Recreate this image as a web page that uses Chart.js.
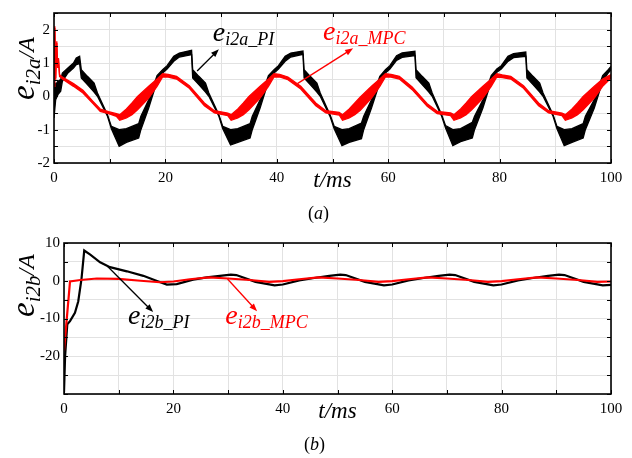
<!DOCTYPE html>
<html>
<head>
<meta charset="utf-8">
<script src="https://cdn.jsdelivr.net/npm/chart.js@4.4.0/dist/chart.umd.min.js"></script>
<style>
  html, body { margin: 0; padding: 0; background: #fff; }
  #wrap { position: relative; width: 632px; height: 458px; }
  canvas { position: absolute; left: 0; }
  #chartA { top: 0; }
  #chartB { top: 229px; }
</style>
</head>
<body>
<div id="wrap">
  <canvas id="chartA" width="632" height="229"></canvas>
  <canvas id="chartB" width="632" height="229"></canvas>
</div>
<script>
// === DATOS (a): e_i2a, banda inferior / superior ===
const tA_PI = [
  0, 0.3, 0.7, 1.2, 1.5, 2.5, 3.5, 4.0, 4.6, 4.9, 6.0, 7.2, 7.8, 9.6, 10.3, 11.7, 13.0, 15.2, 15.6, 17.0, 18.5, 19.5,
  20.3, 21.5, 22.5, 24.7, 24.9, 26.0, 27.2, 27.8, 29.6, 30.3, 31.7, 33.0, 35.2, 35.6, 37.0, 38.5, 39.5,
  40.3, 41.5, 42.5, 44.7, 44.9, 46.0, 47.2, 47.8, 49.6, 50.3, 51.7, 53.0, 55.2, 55.6, 57.0, 58.5, 59.5,
  60.3, 61.5, 62.5, 64.8, 65.0, 66.1, 67.3, 67.9, 69.6, 70.3, 71.6, 73.0, 75.1, 75.5, 77.0, 78.5, 79.5,
  80.3, 81.5, 82.5, 84.7, 84.9, 86.0, 87.2, 87.8, 89.6, 90.3, 91.6, 93.0, 95.0, 95.4, 97.0, 98.5, 99.5, 100
];
const loA_PI = [
  -0.65, -0.1, 0.05, 0.15, 0.45, 0.7, 0.85, 0.95, 0.98, 0.55, 0.35, 0.13, 0.0, -0.6, -0.97, -1.5, -1.38, -1.25, -1.0, -0.35, 0.45, 0.7,
  0.82, 1.05, 1.18, 1.25, 0.55, 0.35, 0.13, 0.0, -0.6, -0.97, -1.46, -1.38, -1.25, -1.0, -0.35, 0.45, 0.7,
  0.82, 1.05, 1.18, 1.26, 0.55, 0.35, 0.13, 0.0, -0.62, -0.97, -1.48, -1.38, -1.27, -1.0, -0.35, 0.42, 0.7,
  0.82, 1.08, 1.17, 1.22, 0.56, 0.35, 0.13, 0.0, -0.6, -0.95, -1.48, -1.36, -1.25, -1.0, -0.35, 0.45, 0.72,
  0.82, 1.05, 1.16, 1.2, 0.55, 0.35, 0.13, 0.0, -0.6, -0.97, -1.48, -1.38, -1.25, -1.0, -0.35, 0.45, 0.7, 0.8
];
const hiA_PI = [
  0.45, 0.35, 0.45, 0.5, 0.7, 0.85, 1.0, 1.15, 1.2, 0.8, 0.6, 0.4, 0.1, -0.55, -0.9, -1.0, -0.97, -0.82, -0.6, -0.1, 0.62, 0.8,
  0.92, 1.2, 1.3, 1.38, 0.8, 0.6, 0.4, 0.1, -0.55, -0.9, -1.0, -0.97, -0.82, -0.6, -0.1, 0.62, 0.8,
  0.92, 1.2, 1.3, 1.36, 0.8, 0.6, 0.4, 0.1, -0.57, -0.9, -1.0, -0.97, -0.8, -0.6, -0.1, 0.6, 0.8,
  0.92, 1.22, 1.3, 1.35, 0.8, 0.6, 0.4, 0.1, -0.55, -0.88, -1.0, -0.97, -0.78, -0.6, -0.1, 0.62, 0.82,
  0.92, 1.2, 1.28, 1.33, 0.8, 0.6, 0.4, 0.1, -0.55, -0.9, -1.0, -0.97, -0.82, -0.6, -0.1, 0.62, 0.8, 0.9
];

const tA_MPC = [
  0, 0.15, 0.3, 0.5, 0.65, 0.8, 1.0, 1.5, 3.5, 5.2, 7.0, 8.3, 9.8, 11.2, 11.8, 13.0, 14.0, 15.0, 17.0, 18.5, 19.5,
  20.5, 22.0, 24.3, 27.0, 28.8, 31.2, 31.8, 33.0, 34.0, 35.0, 37.0, 38.5, 39.5,
  40.5, 42.0, 44.3, 47.0, 48.8, 51.2, 51.8, 53.0, 54.0, 55.0, 57.0, 58.5, 59.5,
  60.5, 62.0, 64.3, 67.0, 68.8, 71.2, 71.8, 73.0, 74.0, 75.0, 77.0, 78.5, 79.5,
  80.5, 82.0, 84.3, 87.0, 88.8, 91.2, 91.8, 93.0, 94.0, 95.0, 97.0, 98.5, 100
];
const loA_MPC = [
  0.3, 2.05, 0.5, 1.6, 0.85, 1.1, 0.6, 0.52, 0.3, 0.1, -0.22, -0.45, -0.52, -0.6, -0.72, -0.65, -0.55, -0.4, -0.05, 0.3, 0.58,
  0.58, 0.52, 0.24, -0.28, -0.5, -0.58, -0.72, -0.65, -0.55, -0.4, -0.05, 0.3, 0.58,
  0.58, 0.5, 0.22, -0.28, -0.5, -0.56, -0.72, -0.65, -0.55, -0.42, -0.05, 0.3, 0.58,
  0.58, 0.52, 0.2, -0.3, -0.52, -0.58, -0.72, -0.65, -0.55, -0.4, -0.05, 0.3, 0.58,
  0.56, 0.52, 0.24, -0.28, -0.5, -0.58, -0.72, -0.65, -0.55, -0.4, -0.05, 0.3, 0.55
];
const hiA_MPC = [
  0.65, 2.1, 0.55, 1.65, 0.9, 1.15, 0.65, 0.58, 0.38, 0.18, -0.15, -0.38, -0.46, -0.52, -0.55, -0.38, -0.2, 0.0, 0.3, 0.52, 0.68,
  0.66, 0.6, 0.32, -0.2, -0.43, -0.5, -0.55, -0.38, -0.2, 0.0, 0.3, 0.52, 0.68,
  0.66, 0.58, 0.3, -0.2, -0.43, -0.48, -0.55, -0.38, -0.2, -0.02, 0.3, 0.52, 0.68,
  0.66, 0.6, 0.28, -0.22, -0.45, -0.5, -0.55, -0.38, -0.2, 0.0, 0.3, 0.52, 0.68,
  0.64, 0.6, 0.32, -0.2, -0.43, -0.5, -0.55, -0.38, -0.2, 0.0, 0.3, 0.52, 0.65
];

// === DATOS (b): e_i2b ===
const tB_PI = [
  0, 0.2, 0.6, 1.1, 2.0, 2.6, 3.2, 3.7, 4.8, 6.6, 8.4, 11.5, 14.5, 17.6, 18.8, 20.6, 23.6, 26.1, 28.5, 30.5, 31.5,
  35, 38.5, 40, 43, 46, 48.5, 50.5, 51.5, 55, 58.5, 60, 63, 66, 68.5, 70.5, 71.5,
  75, 78.5, 80, 83, 86, 88.5, 90.5, 91.5, 95, 98.5, 100
];
const vB_PI = [
  -29.5, -20, -11.5, -10.7, -8.5, -5.5, 0.5, 8, 6.9, 4.9, 3.6, 2.5, 1.3, -0.4, -1.0, -0.9, 0.3, 0.9, 1.3, 1.6, 1.5,
  -0.3, -1.2, -1.0, 0.1, 0.8, 1.3, 1.6, 1.5, -0.3, -1.2, -1.0, 0.1, 0.8, 1.3, 1.6, 1.5,
  -0.3, -1.2, -1.0, 0.1, 0.8, 1.3, 1.6, 1.5, -0.3, -1.2, -1.1
];
const tB_MPC = [
  0, 1.1, 3, 6, 10, 14, 17.5, 20, 23, 26.5, 30, 34, 37.5, 40, 43, 46.5, 50, 54, 57.5, 60,
  63, 66.5, 70, 74, 77.5, 80, 83, 86.5, 90, 94, 97.5, 100
];
const vB_MPC = [
  -18.5, -0.2, 0.2, 0.6, 0.5, 0.0, -0.4, -0.2, 0.4, 0.9, 0.6, 0.2, -0.3, -0.1, 0.4, 0.9, 0.6, 0.2, -0.3, -0.1,
  0.4, 0.9, 0.6, 0.2, -0.3, -0.1, 0.4, 0.9, 0.6, 0.2, -0.3, -0.2
];

// === ETIQUETAS Y FLECHAS (coordenadas de datos) ===
const notasA = [
  { base: "e", sub: "i2a_PI", color: "#000", texto: [28.5, 1.65], desde: [25.7, 0.76], hasta: [29.6, 1.41] },
  { base: "e", sub: "i2a_MPC", color: "#ff0000", texto: [48.3, 1.7], desde: [43.7, 0.38], hasta: [53.7, 1.44] }
];
const notasB = [
  { base: "e", sub: "i2b_PI", color: "#000", texto: [11.7, -11.5], desde: [7.9, 3.9], hasta: [16.3, -8.3] },
  { base: "e", sub: "i2b_MPC", color: "#ff0000", texto: [29.5, -11.5], desde: [29.9, 0.45], hasta: [35.3, -8.1] }
];

const SERIF = '"Liberation Serif", "Times New Roman", serif';

function puntos(ts, vs) {
  return ts.map((t, i) => ({ x: t, y: vs[i] }));
}

function textoSub(ctx, x, y, base, sub, tamBase, tamSub, baja) {
  ctx.textAlign = "left";
  ctx.textBaseline = "alphabetic";
  ctx.font = `italic ${tamBase}px ${SERIF}`;
  ctx.fillText(base, x, y);
  const w = ctx.measureText(base).width;
  ctx.font = `italic ${tamSub}px ${SERIF}`;
  ctx.fillText(sub, x + w, y + baja);
  return w + ctx.measureText(sub).width;
}

function flecha(ctx, x1, y1, x2, y2, color) {
  const ang = Math.atan2(y2 - y1, x2 - x1);
  const L = 8, W = 3;
  ctx.strokeStyle = color;
  ctx.fillStyle = color;
  ctx.lineWidth = 1.3;
  ctx.beginPath();
  ctx.moveTo(x1, y1);
  ctx.lineTo(x2 - L * 0.6 * Math.cos(ang), y2 - L * 0.6 * Math.sin(ang));
  ctx.stroke();
  ctx.beginPath();
  ctx.moveTo(x2, y2);
  ctx.lineTo(x2 - L * Math.cos(ang) + W * Math.sin(ang), y2 - L * Math.sin(ang) - W * Math.cos(ang));
  ctx.lineTo(x2 - L * Math.cos(ang) - W * Math.sin(ang), y2 - L * Math.sin(ang) + W * Math.cos(ang));
  ctx.closePath();
  ctx.fill();
}

// === PLUGIN: marco, marcas interiores y textos ===
function pluginDecoracion(cfg) {
  return {
    id: "decoracion",
    afterDraw(chart) {
      const { ctx, chartArea: a, scales: { x, y } } = chart;
      ctx.save();

      // marcas hacia dentro
      ctx.strokeStyle = "#000";
      ctx.lineWidth = 1;
      ctx.beginPath();
      x.ticks.forEach(t => {
        const px = Math.round(x.getPixelForValue(t.value)) + 0.5;
        ctx.moveTo(px, a.bottom); ctx.lineTo(px, a.bottom - 4);
        ctx.moveTo(px, a.top); ctx.lineTo(px, a.top + 4);
      });
      y.ticks.forEach(t => {
        const py = Math.round(y.getPixelForValue(t.value)) + 0.5;
        ctx.moveTo(a.left, py); ctx.lineTo(a.left + 4, py);
        ctx.moveTo(a.right, py); ctx.lineTo(a.right - 4, py);
      });
      ctx.stroke();

      // marco
      ctx.lineWidth = 1.6;
      ctx.strokeRect(a.left, a.top, a.right - a.left, a.bottom - a.top);

      // titulo eje y (rotado)
      ctx.fillStyle = "#000";
      ctx.save();
      ctx.translate(cfg.yTitulo[0], cfg.yTitulo[1]);
      ctx.rotate(-Math.PI / 2);
      const w = textoSub(ctx, 0, 0, "e", cfg.ySub, 33, 21, 6);
      ctx.font = `italic 24px ${SERIF}`;
      ctx.fillText("/A", w, 0);
      ctx.restore();

      // titulo eje x
      ctx.font = `italic 23px ${SERIF}`;
      ctx.textAlign = "center";
      ctx.fillText("t/ms", (a.left + a.right) / 2, cfg.xTituloY);

      // (a) / (b)
      ctx.font = `18px ${SERIF}`;
      ctx.textAlign = "left";
      const p = cfg.panel;
      let px = p[0] - 12;
      ctx.fillText("(", px, p[1]);
      px += ctx.measureText("(").width;
      ctx.font = `italic 18px ${SERIF}`;
      ctx.fillText(cfg.letra, px, p[1]);
      px += ctx.measureText(cfg.letra).width;
      ctx.font = `18px ${SERIF}`;
      ctx.fillText(")", px, p[1]);

      // anotaciones
      cfg.notas.forEach(n => {
        ctx.fillStyle = n.color;
        textoSub(ctx, x.getPixelForValue(n.texto[0]), y.getPixelForValue(n.texto[1]), n.base, n.sub, 28, 18, 4);
        flecha(ctx,
          x.getPixelForValue(n.desde[0]), y.getPixelForValue(n.desde[1]),
          x.getPixelForValue(n.hasta[0]), y.getPixelForValue(n.hasta[1]), n.color);
      });
      ctx.restore();
    }
  };
}

function escalas(ymin, ymax, paso, etiquetaY, anchoY, altoX) {
  const fuente = { family: SERIF, size: 15 };
  return {
    x: {
      type: "linear", min: 0, max: 100,
      afterFit: s => { s.height = altoX; },
      ticks: {
        stepSize: 10, autoSkip: false, maxRotation: 0, padding: 6, color: "#000", font: fuente,
        callback: v => (v % 20 === 0 ? String(v) : "")
      },
      grid: { color: "#e2e2e2", lineWidth: 1, drawTicks: false },
      border: { display: false }
    },
    y: {
      type: "linear", min: ymin, max: ymax,
      afterFit: s => { s.width = anchoY; },
      ticks: {
        stepSize: paso, autoSkip: false, padding: 4, color: "#000", font: fuente,
        callback: etiquetaY
      },
      grid: { color: "#e2e2e2", lineWidth: 1, drawTicks: false },
      border: { display: false }
    }
  };
}

function serie(datos, color, ancho, relleno) {
  return {
    data: datos,
    borderColor: color,
    backgroundColor: color,
    borderWidth: ancho,
    pointRadius: 0,
    tension: 0,
    fill: relleno
  };
}

// === GRAFICO (a) ===
new Chart(document.getElementById("chartA"), {
  type: "line",
  data: {
    datasets: [
      serie(puntos(tA_MPC, hiA_MPC), "#ff0000", 1.3, "+1"),
      serie(puntos(tA_MPC, loA_MPC), "#ff0000", 1.3, false),
      serie(puntos(tA_PI, hiA_PI), "#000", 1.3, "+1"),
      serie(puntos(tA_PI, loA_PI), "#000", 1.3, false)
    ]
  },
  options: {
    responsive: false,
    animation: false,
    layout: { padding: { top: 10, right: 21, left: 0, bottom: 0 } },
    plugins: { legend: { display: false }, tooltip: { enabled: false } },
    scales: escalas(-2, 2.5, 0.5, v => (Number.isInteger(v) ? String(v) : ""), 54, 66)
  },
  plugins: [pluginDecoracion({
    ySub: "i2a", yTitulo: [34, 100], xTituloY: 187, panel: [320, 219], letra: "a", notas: notasA
  })]
});

// === GRAFICO (b) ===
new Chart(document.getElementById("chartB"), {
  type: "line",
  data: {
    datasets: [
      serie(puntos(tB_MPC, vB_MPC), "#ff0000", 2.2, false),
      serie(puntos(tB_PI, vB_PI), "#000", 2.2, false)
    ]
  },
  options: {
    responsive: false,
    animation: false,
    layout: { padding: { top: 14, right: 21, left: 0, bottom: 0 } },
    plugins: { legend: { display: false }, tooltip: { enabled: false } },
    scales: escalas(-30, 10, 5, v => (v % 10 === 0 && v > -30 ? String(v) : ""), 64, 64)
  },
  plugins: [pluginDecoracion({
    ySub: "i2b", yTitulo: [34, 88], xTituloY: 189, panel: [316, 221], letra: "b", notas: notasB
  })]
});
</script>
</body>
</html>
